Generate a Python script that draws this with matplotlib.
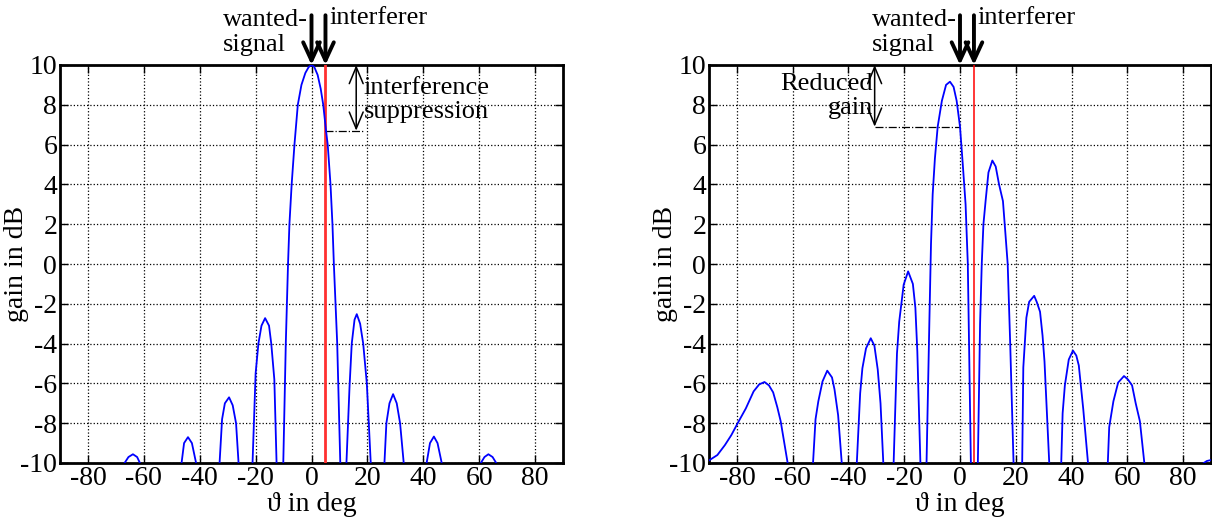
import numpy as np
import matplotlib.pyplot as plt
from matplotlib.patches import Rectangle

plt.rcParams['font.family'] = ['Liberation Serif', 'DejaVu Serif']
plt.rcParams['axes.unicode_minus'] = False
plt.rcParams['font.size'] = 20

nan = np.nan

# left: beam pattern steered to the wanted signal (lobes separated by nan)
theta_a = [-66.9, -65.5, -63.9, -62.4, -61.4, nan,
           -46.5, -45.6, -44.2, -42.8, -41.3, nan,
           -32.9, -32.0, -31.0, -29.5, -28.2, -27.0, -26.1, nan,
           -21.1, -20.0, -19.0, -17.9, -16.6, -15.2, -14.4, -13.3, -12.5, nan,
           -10.1, -9.2, -8.4, -7.9, -7.1, -6.1, -4.9, -3.6, -2.2, -1.0, 0.0,
           1.0, 2.2, 3.3, 4.2, 5.2, 5.8, 6.8, 7.5, 8.0, 9.2, 10.3, nan,
           12.5, 13.6, 14.4, 15.4, 16.2, 17.4, 18.5, 19.8, 21.2, nan,
           26.1, 26.8, 27.9, 29.2, 30.5, 31.7, 33.0, nan,
           41.2, 42.4, 43.8, 45.1, 46.6, nan,
           60.6, 61.9, 63.3, 64.8, 66.1]
gain_a = [-10, -9.7, -9.56, -9.7, -10, nan,
          -10, -9.0, -8.7, -9.0, -10, nan,
          -10, -7.8, -7.0, -6.7, -7.1, -8.0, -10, nan,
          -10, -5.5, -4.0, -3.1, -2.72, -3.1, -4.0, -5.8, -10, nan,
          -10, -4, 0, 2, 4, 6, 8, 9.0, 9.6, 9.9, 10,
          9.9, 9.5, 8.8, 8, 6.7, 6, 4, 2, 0, -4, -10, nan,
          -10, -6.2, -4.0, -2.8, -2.52, -3.0, -4.0, -6.0, -10, nan,
          -10, -8.0, -7.0, -6.54, -7.0, -8.0, -10, nan,
          -10, -9.0, -8.67, -9.0, -10, nan,
          -10, -9.7, -9.56, -9.7, -10]

# right: beam pattern with null steered to the interferer
theta_b = [-90, -87, -84.3, -82, -79.6, -76.8, -74, -72, -70.1, -68.5, -67, -65.5, -64.3, -61.8, nan,
           -52.7, -51.8, -50.8, -49.3, -47.6, -45.9, -45.0, -43.7, -42.4, nan,
           -37.0, -35.8, -35.0, -33.7, -32.0, -30.7, -29.5, -28.5, -27.5, nan,
           -23.8, -22.6, -21.8, -20.2, -18.6, -16.9, -16.0, -15.3, -14.2, nan,
           -12.0, -11.0, -10.4, -9.8, -9.0, -8.0, -6.5, -5.0, -3.6, -2.3, -1.2, 0.0, 1.0, 2.0, 2.8, 3.9, nan,
           6.4, 7.2, 7.8, 8.4, 9.2, 10.2, 11.6, 12.8, 14.0, 15.4, 16.3, 17.1, 18.0, 19.2, nan,
           22.3, 22.7, 23.8, 24.8, 26.6, 27.5, 28.7, 29.6, 30.3, 32.0, nan,
           36.3, 36.8, 37.6, 39.0, 40.5, 41.7, 42.6, 43.4, 44.2, 45.9, nan,
           53.0, 53.5, 55.0, 56.7, 58.8, 60.2, 61.7, 63.0, 64.5, 66.1, nan,
           87.4, 88.5, 90]
gain_b = [-9.87, -9.6, -9.1, -8.6, -7.97, -7.26, -6.4, -6.05, -5.93, -6.1, -6.45, -7.2, -7.9, -10, nan,
          -10, -7.8, -6.9, -5.9, -5.36, -5.7, -6.3, -7.6, -10, nan,
          -10, -6.5, -5.24, -4.24, -3.73, -4.1, -5.3, -7.0, -10, nan,
          -10, -4.5, -2.9, -1.04, -0.37, -1.0, -2.2, -4.4, -10, nan,
          -10, -3, 1, 3.5, 5.3, 6.9, 8.2, 9.0, 9.16, 8.9, 8.2, 6.9, 5.0, 3.0, 0, -10, nan,
          -10, -3, 0, 2.0, 3.2, 4.6, 5.2, 4.9, 4.0, 3.16, 1.5, 0, -4, -10, nan,
          -10, -5.2, -2.7, -1.9, -1.6, -1.9, -2.4, -3.6, -4.9, -10, nan,
          -10, -7.5, -6.1, -4.8, -4.35, -4.6, -5.1, -6.2, -7.3, -10, nan,
          -10, -8.2, -6.9, -5.96, -5.63, -5.8, -6.1, -7.0, -7.9, -10, nan,
          -10, -9.9, -9.85]

wanted = 0
interferer = 5
xticks = [-80, -60, -40, -20, 0, 20, 40, 60, 80]
yticks = [-10, -8, -6, -4, -2, 0, 2, 4, 6, 8, 10]

fig = plt.figure(figsize=(12.12, 5.22), dpi=100)
ax1 = fig.add_axes([60 / 1212, 59 / 522, 503 / 1212, 398 / 522])
ax2 = fig.add_axes([709 / 1212, 59 / 522, 502 / 1212, 398 / 522])


def setup(ax):
    ax.set_xlim(-90, 90)
    ax.set_ylim(-10, 10)
    ax.set_xticks(xticks)
    ax.set_yticks(yticks)
    ax.grid(True, color='black', linestyle=':', linewidth=0.9)
    ax.tick_params(direction='in', top=True, right=True, length=6, width=1, labelsize=20, pad=2)
    for s in ax.spines.values():
        s.set_linewidth(2)
    ax.set_xlabel('ϑ in deg', fontsize=20, labelpad=1)
    ax.set_ylabel('gain in dB', fontsize=20, labelpad=-6)


def top_arrows(ax, ytext):
    for xa in (wanted, interferer):
        ax.annotate('', xy=(xa, 10), xytext=(xa, 12.5), annotation_clip=False,
                    arrowprops=dict(arrowstyle='->,head_length=0.65,head_width=0.3', lw=2.8, color='black',
                                    mutation_scale=20, shrinkA=0, shrinkB=0))
    ax.text(-31.7, ytext, 'wanted-\nsignal', ha='left', va='center', fontsize=19, linespacing=1.15,
            clip_on=False)
    ax.text(6.3, ytext + 0.72, 'interferer', ha='left', va='center', fontsize=19, clip_on=False)


setup(ax1)
ax1.add_patch(Rectangle((17, 6.7), 47, 3.3, facecolor='white', edgecolor='none', zorder=1.5))
ax1.axvline(interferer, color='#ff3030', lw=2, zorder=3)
ax1.plot(theta_a, gain_a, color='blue', lw=1.3, zorder=4)
ax1.plot([interferer, 18.4], [6.7, 6.7], color='black', linestyle='-.', lw=0.9, zorder=3)
ax1.annotate('', xy=(16, 6.7), xytext=(16, 10), zorder=4,
             arrowprops=dict(arrowstyle='<->,head_length=0.6,head_width=0.25', lw=1.1, color='black',
                             mutation_scale=20, shrinkA=0, shrinkB=0))
ax1.text(18.6, 8.25, 'interference\nsuppression', ha='left', va='center', fontsize=19,
         linespacing=1.15, zorder=4)
top_arrows(ax1, 11.62)

setup(ax2)
ax2.add_patch(Rectangle((-67, 6.9), 36, 3.1, facecolor='white', edgecolor='none', zorder=1.5))
ax2.axvline(interferer, color='red', lw=1.1, zorder=3)
ax2.plot(theta_b, gain_b, color='blue', lw=1.3, zorder=4)
ax2.plot([-30.6, wanted], [6.9, 6.9], color='black', linestyle='-.', lw=0.9, zorder=3)
ax2.annotate('', xy=(-30.6, 6.9), xytext=(-30.6, 10), zorder=4,
             arrowprops=dict(arrowstyle='<->,head_length=0.6,head_width=0.25', lw=1.1, color='black',
                             mutation_scale=20, shrinkA=0, shrinkB=0))
ax2.text(-31.3, 8.45, 'Reduced\ngain', ha='right', va='center', fontsize=19,
         linespacing=1.15, multialignment='right', zorder=4)
top_arrows(ax2, 11.62)

fig.savefig('out.png', dpi=100)
